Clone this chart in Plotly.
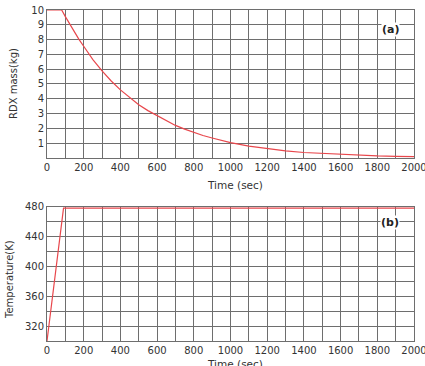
import plotly.graph_objects as go

# Panel (a): RDX mass vs time
time_a = [0, 40, 80, 100, 125, 150, 175, 200, 250, 300, 350, 400, 450, 500, 550, 600, 650,
          700, 750, 800, 850, 900, 950, 1000, 1100, 1200, 1300, 1400, 1500, 1600, 1700,
          1800, 1900, 2000]
mass_a = [10, 10, 10, 9.55, 9.0, 8.5, 8.0, 7.55, 6.65, 5.88, 5.2, 4.6, 4.07, 3.6, 3.2,
          2.85, 2.5, 2.2, 1.95, 1.72, 1.52, 1.35, 1.18, 1.04, 0.8, 0.62, 0.48, 0.37, 0.3,
          0.24, 0.18, 0.14, 0.11, 0.09]

# Panel (b): Temperature vs time
time_b = [0, 90, 2000]
temp_b = [300, 478.5, 478.5]

x_ticks = [0, 200, 400, 600, 800, 1000, 1200, 1400, 1600, 1800, 2000]
mass_ticks = [1, 2, 3, 4, 5, 6, 7, 8, 9, 10]
temp_ticks = [320, 360, 400, 440, 480]

RED = "#e8474c"
GRID = "#6e6e6e"
FONT = "DejaVu Sans"
TXT = "#333333"

fig = go.Figure()
fig.add_trace(go.Scatter(x=time_a, y=mass_a, mode="lines", line=dict(color=RED, width=1.2),
                         xaxis="x", yaxis="y", showlegend=False))
fig.add_trace(go.Scatter(x=time_b, y=temp_b, mode="lines", line=dict(color=RED, width=1.2),
                         xaxis="x2", yaxis="y2", showlegend=False))

axis_common = dict(showgrid=True, gridcolor=GRID, gridwidth=1, showline=True, linecolor=GRID,
                   linewidth=1, mirror=True, zeroline=False, ticks="",
                   ticklabeloverflow="allow", automargin=False,
                   tickfont=dict(family=FONT, size=10, color=TXT))

fig.update_layout(
    template="none",
    width=425, height=366,
    margin=dict(l=47, r=11, t=10, b=25, autoexpand=False),
    paper_bgcolor="white", plot_bgcolor="white",
    font=dict(family=FONT, color=TXT),
    xaxis=dict(range=[0, 2000], tickvals=x_ticks, anchor="y",
               domain=[0, 1], **axis_common),
    yaxis=dict(range=[0, 10], tickvals=mass_ticks, domain=[0.553, 1.0], anchor="x",
               **axis_common),
    xaxis2=dict(range=[0, 2000], tickvals=x_ticks, anchor="y2", domain=[0, 1], **axis_common),
    yaxis2=dict(range=[300, 480], tickvals=temp_ticks, domain=[0, 0.405], anchor="x2",
                **axis_common),
)

fig.update_xaxes(minor=dict(dtick=100, showgrid=True, gridcolor=GRID, gridwidth=1, ticks=""))
fig.update_layout(yaxis2=dict(minor=dict(dtick=20, showgrid=True, gridcolor=GRID, gridwidth=1, ticks="")))

fig.add_annotation(text="Time (sec)", xref="paper", yref="paper", x=0.513, y=(366 - 185 - 25) / 331,
                   showarrow=False, font=dict(family=FONT, size=10.5, color=TXT), yanchor="middle")
fig.add_annotation(text="Time (sec)", xref="paper", yref="paper", x=0.513, y=(366 - 364 - 25) / 331,
                   showarrow=False, font=dict(family=FONT, size=10.5, color=TXT), yanchor="middle")
fig.add_annotation(text="RDX mass(kg)", xref="paper", yref="paper", x=-(47 - 13) / 367,
                   y=(366 - 84 - 25) / 331, textangle=-90, showarrow=False,
                   font=dict(family=FONT, size=10, color=TXT), xanchor="center", yanchor="middle")
fig.add_annotation(text="Temperature(K)", xref="paper", yref="paper", x=-(47 - 9) / 367,
                   y=(366 - 280 - 25) / 331, textangle=-90, showarrow=False,
                   font=dict(family=FONT, size=10, color=TXT), xanchor="center", yanchor="middle")
fig.add_annotation(text="<b>(a)</b>", xref="x", yref="y", x=1870, y=8.65, showarrow=False,
                   bgcolor="white", borderpad=0,
                   font=dict(family=FONT, size=11, color="#222222"))
fig.add_annotation(text="<b>(b)</b>", xref="x2", yref="y2", x=1870, y=458.5, showarrow=False,
                   bgcolor="white", borderpad=0,
                   font=dict(family=FONT, size=11, color="#222222"))

fig.write_html("out.html")
